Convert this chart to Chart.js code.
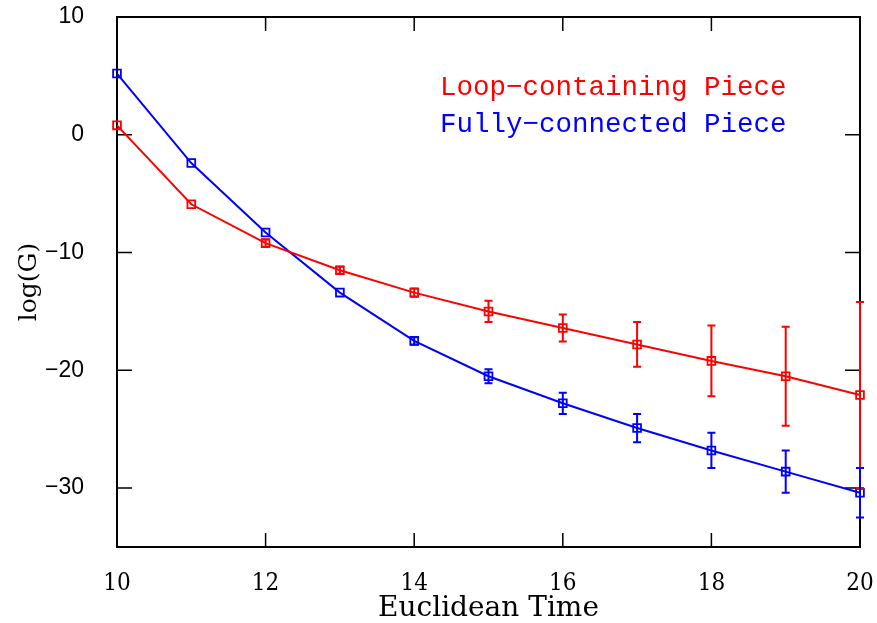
<!DOCTYPE html>
<html><head><meta charset="utf-8">
<script src="https://cdn.jsdelivr.net/npm/chart.js@4"></script>
<style>html,body{margin:0;padding:0;background:#fff}#wrap{width:877px;height:623px}</style>
</head><body><div id="wrap"><canvas id="c" width="877" height="623"></canvas></div>
<script>
const times = [10, 11, 12, 13, 14, 15, 16, 17, 18, 19, 20];
const loopValues = [0.8, -5.9, -9.2, -11.5, -13.4, -15.0, -16.4, -17.8, -19.2, -20.5, -22.1];
const loopErrors = [0.1, 0.15, 0.3, 0.3, 0.35, 0.9, 1.15, 1.9, 3.0, 4.2, 7.9];
const fullValues = [5.2, -2.4, -8.3, -13.4, -17.5, -20.5, -22.8, -24.9, -26.8, -28.6, -30.4];
const fullErrors = [0.1, 0.1, 0.15, 0.15, 0.3, 0.6, 0.9, 1.2, 1.5, 1.8, 2.1];
const xTicks = [10, 12, 14, 16, 18, 20];
const yTicks = [10, 0, -10, -20, -30];
const seriesNames = ['Loop\u2212containing Piece', 'Fully\u2212connected Piece'];
const seriesColors = ['#ff0000', '#0000ff'];

function pts(vals, errs) { return times.map((t, i) => ({x: t, y: vals[i], e: errs[i]})); }

const errorBars = {
  id: 'errorBars',
  afterDatasetsDraw(chart) {
    const ctx = chart.ctx, xs = chart.scales.x, ys = chart.scales.y;
    ctx.save();
    chart.data.datasets.forEach(ds => {
      ctx.strokeStyle = ds.borderColor; ctx.lineWidth = 2;
      ds.data.forEach(p => {
        const px = xs.getPixelForValue(p.x);
        const top = ys.getPixelForValue(p.y + p.e), bot = ys.getPixelForValue(p.y - p.e);
        if (bot - top < 5) return;
        ctx.beginPath();
        ctx.moveTo(px, top); ctx.lineTo(px, bot);
        ctx.moveTo(px - 4, top); ctx.lineTo(px + 4, top);
        ctx.moveTo(px - 4, bot); ctx.lineTo(px + 4, bot);
        ctx.stroke();
      });
    });
    ctx.restore();
  }
};

const frame = {
  id: 'frame',
  beforeDatasetsDraw(chart) {
    const ctx = chart.ctx, a = chart.chartArea, xs = chart.scales.x, ys = chart.scales.y;
    ctx.save();
    ctx.strokeStyle = '#000'; ctx.lineWidth = 2;
    ctx.strokeRect(a.left, a.top, a.right - a.left, a.bottom - a.top);
    ctx.lineWidth = 1.5;
    ctx.beginPath();
    xTicks.forEach(v => {
      const px = xs.getPixelForValue(v);
      ctx.moveTo(px, a.bottom); ctx.lineTo(px, a.bottom - 14);
      ctx.moveTo(px, a.top); ctx.lineTo(px, a.top + 14);
    });
    yTicks.forEach(v => {
      const py = ys.getPixelForValue(v);
      ctx.moveTo(a.left, py); ctx.lineTo(a.left + 15, py);
      ctx.moveTo(a.right, py); ctx.lineTo(a.right - 15, py);
    });
    ctx.stroke();
    ctx.font = '27.5px "Liberation Mono"';
    ctx.textBaseline = 'middle'; ctx.textAlign = 'left';
    ctx.fillStyle = seriesColors[0]; ctx.fillText(seriesNames[0], 440, 88);
    ctx.fillStyle = seriesColors[1]; ctx.fillText(seriesNames[1], 440, 125);
    ctx.restore();
  }
};

new Chart(document.getElementById('c'), {
  type: 'scatter',
  data: {
    datasets: [
      {label: seriesNames[0], data: pts(loopValues, loopErrors), borderColor: seriesColors[0], backgroundColor: 'rgba(0,0,0,0)',
       showLine: true, borderWidth: 2, pointStyle: 'rect', pointRadius: 5.5, pointBorderWidth: 1.8, tension: 0, clip: false},
      {label: seriesNames[1], data: pts(fullValues, fullErrors), borderColor: seriesColors[1], backgroundColor: 'rgba(0,0,0,0)',
       showLine: true, borderWidth: 2, pointStyle: 'rect', pointRadius: 5.5, pointBorderWidth: 1.8, tension: 0, clip: false}
    ]
  },
  options: {
    responsive: false, animation: false,
    layout: {padding: {top: 17, right: 17, left: 0, bottom: 0}},
    plugins: {legend: {display: false}, tooltip: {enabled: false}},
    scales: {
      x: {
        type: 'linear', min: 10, max: 20,
        afterBuildTicks: s => { s.ticks = xTicks.map(v => ({value: v})); },
        ticks: {color: '#000', font: {family: '"DejaVu Serif Condensed", "DejaVu Serif"', size: 24}, padding: 14, maxRotation: 0},
        grid: {display: false}, border: {display: false},
        title: {display: true, text: 'Euclidean Time', color: '#000', font: {family: '"DejaVu Serif"', size: 28, lineHeight: 1}, padding: {top: 0, bottom: 0}},
        afterFit: s => { s.height = 76; s.paddingLeft = 0; s.paddingRight = 0; }
      },
      y: {
        type: 'linear', min: -35, max: 10,
        afterBuildTicks: s => { s.ticks = yTicks.map(v => ({value: v})); },
        ticks: {color: '#000', font: {family: '"Liberation Sans"', size: 23}, padding: 25, callback: v => (v < 0 ? '\u2212' + Math.abs(v) : '' + v)},
        grid: {display: false}, border: {display: false},
        title: {display: true, text: 'log(G)', color: '#000', font: {family: '"DejaVu Serif"', size: 25, lineHeight: 1}, padding: {top: 17, bottom: 0}},
        afterFit: s => { s.width = 117; s.paddingTop = 0; s.paddingBottom = 0; }
      }
    }
  },
  plugins: [errorBars, frame]
});
</script></body></html>
